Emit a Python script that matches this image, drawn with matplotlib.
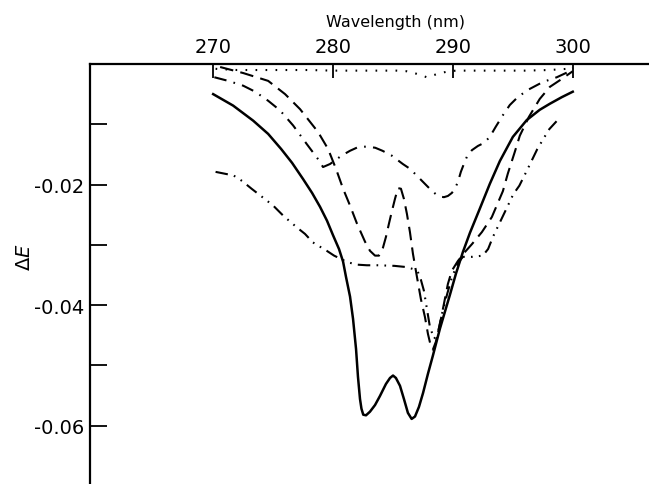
import matplotlib
matplotlib.use("Agg")
import matplotlib.pyplot as plt

plt.rcParams['font.family'] = ['DejaVu Sans']
plt.rcParams['axes.unicode_minus'] = False

# solid curve (double minimum)
wl_solid = [270.00, 271.66, 273.33, 274.58, 275.66, 276.57, 277.49, 278.24, 278.90, 279.48,
            279.98, 280.48, 280.82, 281.06, 281.40, 281.65, 281.90, 282.06, 282.23, 282.35,
            282.50, 282.73, 283.06, 283.48, 283.89, 284.39, 284.73, 284.98, 285.22, 285.56,
            285.89, 286.22, 286.53, 286.81, 287.14, 287.48, 287.89, 288.30, 288.89, 289.72,
            290.22, 290.80, 291.39, 292.21, 293.04, 293.88, 294.96, 296.12, 297.20, 298.04,
            299.04, 299.95]
de_solid = [-0.0050, -0.0069, -0.0094, -0.0116, -0.0141, -0.0164, -0.0191, -0.0214, -0.0237, -0.0260,
            -0.0284, -0.0307, -0.0328, -0.0353, -0.0386, -0.0423, -0.0473, -0.0519, -0.0556, -0.0572,
            -0.0582, -0.0583, -0.0577, -0.0566, -0.0551, -0.0531, -0.0521, -0.0517, -0.0521, -0.0534,
            -0.0556, -0.0579, -0.0589, -0.0585, -0.0569, -0.0546, -0.0514, -0.0484, -0.0439, -0.0383,
            -0.0348, -0.0312, -0.0280, -0.0240, -0.0199, -0.0161, -0.0121, -0.0093, -0.0076, -0.0066,
            -0.0055, -0.0046]

# dashed curve
wl_dash = [270.58, 272.50, 274.58, 275.99, 277.24, 278.74, 279.57, 280.23, 280.82, 281.40,
           281.98, 282.65, 283.06, 283.48, 283.81, 284.14, 284.39, 284.64, 284.89, 285.14,
           285.39, 285.64, 285.89, 286.14, 286.39, 286.64, 286.97, 287.30, 287.64, 287.89,
           288.14, 288.30, 288.55, 288.89, 289.22, 289.55, 289.88, 290.38, 290.97, 291.55,
           292.38, 293.21, 294.13, 294.54, 295.12, 295.54, 296.29, 297.20, 298.04, 298.87,
           299.95]
de_dash = [-0.0005, -0.0015, -0.0028, -0.0050, -0.0075, -0.0113, -0.0141, -0.0174, -0.0207, -0.0235,
           -0.0265, -0.0295, -0.0310, -0.0318, -0.0318, -0.0305, -0.0287, -0.0265, -0.0244, -0.0224,
           -0.0206, -0.0207, -0.0224, -0.0249, -0.0279, -0.0315, -0.0353, -0.0390, -0.0420, -0.0448,
           -0.0469, -0.0474, -0.0461, -0.0431, -0.0398, -0.0365, -0.0343, -0.0327, -0.0312, -0.0299,
           -0.0279, -0.0254, -0.0211, -0.0182, -0.0146, -0.0119, -0.0088, -0.0058, -0.0038, -0.0027,
           -0.0012]

# dash-dot curve (hump)
wl_dd = [270.10, 271.25, 272.50, 273.50, 274.58, 275.57, 276.66, 277.80, 278.74, 279.15,
         279.73, 280.70, 281.40, 282.06, 282.80, 283.50, 284.10, 284.87, 285.80, 286.40,
         286.95, 287.89, 288.30, 288.55, 288.89, 289.22, 289.55, 289.88, 290.13, 290.38,
         290.63, 290.88, 291.13, 291.55, 292.05, 292.55, 293.04, 293.54, 294.13, 294.71,
         295.37, 296.21, 297.45, 298.62, 299.70, 299.95]
de_dd = [-0.0022, -0.0028, -0.0036, -0.0046, -0.0061, -0.0077, -0.0102, -0.0133, -0.0158, -0.0171,
         -0.0166, -0.0152, -0.0144, -0.0138, -0.0137, -0.0139, -0.0144, -0.0152, -0.0166, -0.0174,
         -0.0185, -0.0204, -0.0212, -0.0216, -0.0220, -0.0221, -0.0219, -0.0214, -0.0207, -0.0196,
         -0.0179, -0.0166, -0.0154, -0.0143, -0.0136, -0.0131, -0.0121, -0.0104, -0.0085, -0.0068,
         -0.0055, -0.0043, -0.0030, -0.0022, -0.0012, -0.0007]

# dash-dot-dot curve
wl_ddd = [270.2, 271.7, 272.4, 273.2, 274.3, 275.0, 275.85, 276.96, 277.65, 278.3,
          279.46, 280.07, 281.2, 282.0, 282.8, 283.7, 285.1, 286.1, 286.6, 287.05,
          287.3, 287.55, 287.8, 288.05, 288.4, 288.7, 289.05, 289.5, 289.9, 290.4,
          290.8, 291.6, 292.46, 292.9, 293.3, 293.9, 294.5, 295.0, 295.5, 296.2,
          297.0, 297.6, 298.0, 298.6]
de_ddd = [-0.0179, -0.0185, -0.0194, -0.0207, -0.0224, -0.0235, -0.0252, -0.0271, -0.0282, -0.0296,
          -0.0310, -0.0318, -0.0329, -0.0333, -0.0334, -0.0334, -0.0335, -0.0337, -0.0340, -0.0345,
          -0.0358, -0.0376, -0.0406, -0.0436, -0.0456, -0.0448, -0.0415, -0.0381, -0.0353, -0.0330,
          -0.0320, -0.0320, -0.0318, -0.0307, -0.0287, -0.0262, -0.0237, -0.0216, -0.0202, -0.0174,
          -0.0141, -0.0121, -0.0108, -0.0095]

# dotted curve (near zero)
wl_dot = [270.2, 272, 274, 276, 278, 280, 282, 284, 285.3, 286.1, 286.9, 287.8, 288.6, 289.4, 290.2,
          292, 294, 296, 298, 299.5]
de_dot = [-0.0008, -0.0010, -0.0010, -0.0010, -0.0010, -0.0011, -0.0011, -0.0011, -0.0011, -0.0012,
          -0.0016, -0.0022, -0.0017, -0.0013, -0.0011, -0.0011, -0.0011, -0.0011, -0.0010, -0.0008]

xticks = [270, 280, 290, 300]
yticks_major = [-0.02, -0.04, -0.06]
yticks_minor = [-0.01, -0.03, -0.05]
ytick_labels = ["-0.02", "-0.04", "-0.06"]

fig = plt.figure(figsize=(6.49, 4.85), dpi=100)
ax = fig.add_axes([89.5 / 649, 0.0, 1 - 89.5 / 649, 1 - 65 / 485])

lw = 1.5
ax.plot(wl_solid, de_solid, color='k', lw=1.8)
ax.plot(wl_dash, de_dash, color='k', lw=lw, linestyle=(0, (6.5, 3.5)))
ax.plot(wl_dd, de_dd, color='k', lw=lw, linestyle=(0, (6, 3.5, 0.8, 3.5)))
ax.plot(wl_ddd, de_ddd, color='k', lw=lw, linestyle=(0, (6, 3, 0.8, 3, 0.8, 3)))
ax.plot(wl_dot, de_dot, color='k', lw=lw, linestyle=(0, (0.8, 4.0)))

ax.set_xlim(259.7, 306.3)
ax.set_ylim(-0.0697, 0.0)

ax.spines['right'].set_visible(False)
ax.spines['bottom'].set_visible(False)
ax.spines['top'].set_linewidth(1.6)
ax.spines['left'].set_linewidth(1.6)

ax.xaxis.tick_top()
ax.xaxis.set_label_position('top')
ax.set_xticks(xticks)
ax.set_xticklabels([str(t) for t in xticks])
ax.tick_params(axis='x', which='major', direction='in', length=10, width=1.3,
               labelsize=14, pad=6)

ax.set_yticks(yticks_major)
ax.set_yticklabels(ytick_labels)
ax.set_yticks(yticks_minor, minor=True)
ax.tick_params(axis='y', which='both', direction='in', length=12, width=1.3,
               labelsize=14, pad=4)

fig.text(396 / 649, 1 - 22 / 485, "Wavelength (nm)", ha='center', va='center', fontsize=11.5)
fig.text(24 / 649, 1 - 257 / 485, "\u0394" + r"$\mathit{E}$", ha='center', va='center',
         rotation=90, fontsize=14)

fig.savefig("out.png", dpi=100)
